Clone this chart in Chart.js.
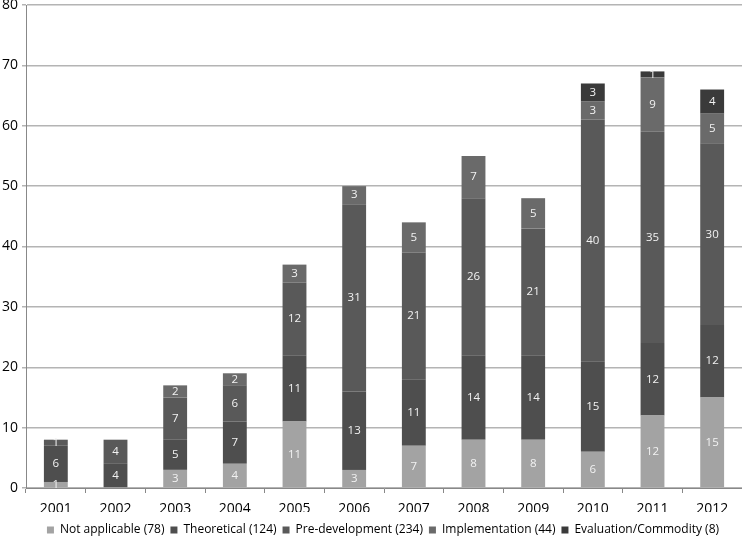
<!DOCTYPE html>
<html>
<head>
<meta charset="utf-8">
<script src="https://cdn.jsdelivr.net/npm/chart.js@4"></script>
<style>
  html, body { margin: 0; padding: 0; background: #fff; }
  #wrap { width: 742px; height: 536px; }
</style>
</head>
<body>
<div id="wrap"><canvas id="stockChart"></canvas></div>
<script>
// Data
const years = ["2001", "2002", "2003", "2004", "2005", "2006", "2007", "2008", "2009", "2010", "2011", "2012"];
const notApplicable = [1, 0, 3, 4, 11, 3, 7, 8, 8, 6, 12, 15];
const theoretical = [6, 4, 5, 7, 11, 13, 11, 14, 14, 15, 12, 12];
const preDevelopment = [1, 4, 7, 6, 12, 31, 21, 26, 21, 40, 35, 30];
const implementation = [0, 0, 2, 2, 3, 3, 5, 7, 5, 3, 9, 5];
const evaluation = [0, 0, 0, 0, 0, 0, 0, 0, 0, 3, 1, 4];
const yTicks = [0, 10, 20, 30, 40, 50, 60, 70, 80];

const FONT = "'Open Sans', 'Noto Sans', sans-serif";

// white value labels inside each segment
const segmentLabels = {
  id: "segmentLabels",
  afterLayout(chart) {
    // nudge the legend to where it sits in the original
    if (chart.legend) {
      chart.legend.left += 12;
      chart.legend.right += 12;
      chart.legend.top += 6;
      chart.legend.bottom += 6;
    }
  },
  afterDatasetsDraw(chart) {
    const ctx = chart.ctx;
    ctx.save();
    ctx.fillStyle = "#f2f2f2";
    ctx.font = "11.5px " + FONT;
    ctx.textAlign = "center";
    ctx.textBaseline = "middle";
    chart.data.datasets.forEach(function (ds, i) {
      const meta = chart.getDatasetMeta(i);
      meta.data.forEach(function (bar, j) {
        const v = ds.data[j];
        if (!v) return;
        const mid = (bar.y + bar.base) / 2;
        ctx.fillText(String(v), bar.x, mid);
      });
    });
    ctx.restore();
  },
};

const ctx = document.getElementById("stockChart").getContext("2d");
const myChart = new Chart(ctx, {
  type: "bar",
  data: {
    labels: years,
    datasets: [
      { label: "Not applicable (78)", data: notApplicable, backgroundColor: "#a3a3a3" },
      { label: "Theoretical (124)", data: theoretical, backgroundColor: "#4e4e4e" },
      { label: "Pre-development (234)", data: preDevelopment, backgroundColor: "#595959" },
      { label: "Implementation (44)", data: implementation, backgroundColor: "#6a6a6a" },
      { label: "Evaluation/Commodity (8)", data: evaluation, backgroundColor: "#3a3a3a" },
    ],
  },
  options: {
    responsive: true,
    maintainAspectRatio: false,
    animation: false,
    layout: { padding: { top: 5, right: 0, left: 0, bottom: -4 } },
    datasets: {
      bar: { categoryPercentage: 1, barPercentage: 0.4, borderWidth: 0 },
    },
    scales: {
      x: {
        stacked: true,
        afterFit: function (axis) {
          axis.height = 24;
          axis.paddingLeft = 0;
          axis.paddingRight = 0;
        },
        grid: {
          offset: true,
          drawOnChartArea: false,
          drawTicks: true,
          tickLength: 5,
          color: "#888",
        },
        border: { color: "#888", width: 1 },
        ticks: {
          color: "#000",
          font: { family: FONT, size: 14 },
          padding: 8,
          maxRotation: 0,
        },
      },
      y: {
        stacked: true,
        min: 0,
        max: 80,
        afterBuildTicks: function (axis) {
          axis.ticks = yTicks.map(function (v) { return { value: v }; });
        },
        afterFit: function (axis) {
          axis.width = 26;
          axis.paddingTop = 0;
          axis.paddingBottom = 0;
        },
        grid: {
          color: "#b4b4b4",
          lineWidth: 1.5,
          drawTicks: true,
          tickLength: 4,
        },
        border: { color: "#888", width: 1 },
        ticks: {
          color: "#000",
          font: { family: FONT, size: 14 },
          padding: 4,
        },
      },
    },
    plugins: {
      legend: {
        display: true,
        position: "bottom",
        labels: {
          color: "#000",
          font: { family: FONT, size: 12 },
          boxWidth: 7,
          boxHeight: 7,
          padding: 6,
        },
      },
      tooltip: { enabled: false },
    },
  },
  plugins: [segmentLabels],
});
</script>
</body>
</html>
